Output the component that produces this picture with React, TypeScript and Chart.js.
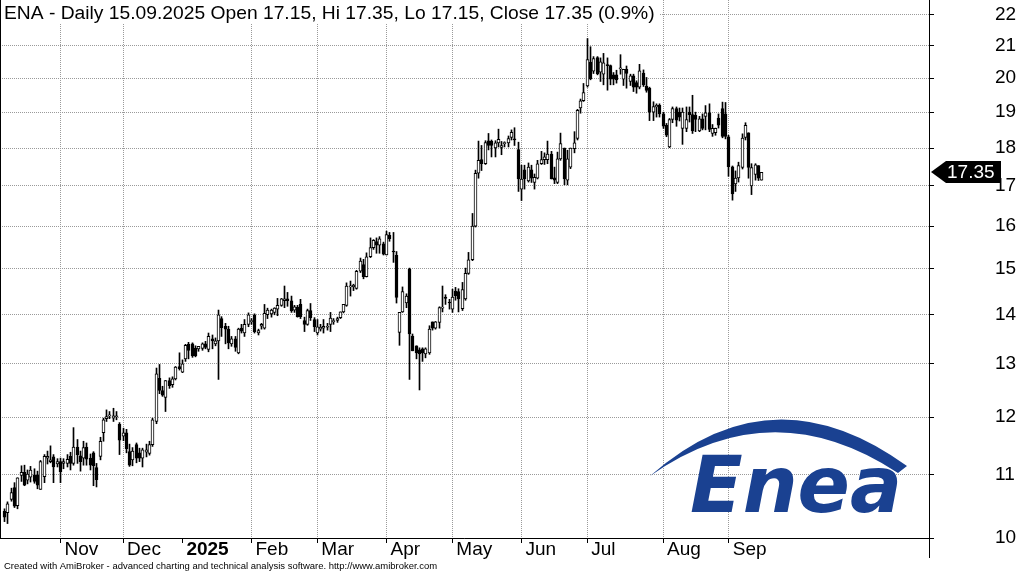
import React, { useEffect, useRef } from 'react';
import { Chart, registerables } from 'chart.js';

Chart.register(...registerables);

// ---- data (ENA daily, 9 Oct 2024 .. 15 Sep 2025), one value per trading day ----
const OPEN = [
  10.41,10.39,10.60,10.79,10.50,10.99,11.04,10.91,10.96,11.00,10.99,10.76,10.97,11.28,11.22,11.30,11.18,
  11.22,11.19,11.19,11.31,11.19,11.47,11.32,11.28,11.47,11.28,11.37,11.12,11.31,11.72,11.97,12.02,11.98,12.00,11.87,
  11.66,11.72,11.39,11.25,11.51,11.37,11.28,11.38,11.36,11.51,11.92,12.72,12.49,12.36,12.68,12.60,12.71,12.95,
  12.84,13.10,13.39,13.40,13.31,13.30,13.31,13.40,13.29,13.50,13.40,13.46,13.92,13.76,13.70,13.40,13.50,13.22,13.72,13.62,13.80,
  13.85,14.00,13.62,13.76,13.72,14.00,14.02,14.05,14.12,14.20,14.30,14.34,14.30,14.10,14.16,14.22,13.88,13.80,14.09,13.90,
  13.62,13.70,13.72,13.74,13.80,13.85,13.88,13.94,14.06,14.20,14.60,14.60,14.57,14.95,15.10,14.83,15.28,15.49,15.63,15.55,15.58,
  15.32,15.78,15.41,15.31,13.63,14.06,14.25,15.00,13.56,13.36,13.28,13.30,13.20,13.22,13.85,13.72,13.84,14.14,14.38,14.27,
  14.12,14.51,14.50,14.13,14.34,14.90,15.21,16.00,17.33,17.69,17.58,18.20,18.19,18.00,18.14,18.02,18.12,18.14,18.29,18.25,17.96,
  16.92,17.42,17.13,17.42,17.09,17.20,17.58,17.69,17.69,17.84,17.21,17.09,17.71,18.00,17.15,17.49,17.98,18.26,19.12,19.33,
  19.77,20.49,20.21,20.63,20.18,20.12,20.40,20.38,20.10,20.10,20.28,19.97,20.27,19.90,20.07,19.87,19.73,20.15,19.76,19.70,19.00,19.15,19.20,
  18.95,18.63,18.03,18.79,19.10,19.00,18.54,18.54,19.00,18.93,18.91,18.47,18.81,18.88,18.98,18.40,18.42,18.83,19.10,18.95,
  18.31,17.50,17.05,17.21,17.48,18.29,18.42,17.00,17.30,17.53,17.15,
];
const HIGH = [
  10.45,10.56,10.78,10.87,10.95,11.15,11.16,11.08,11.14,11.10,11.06,11.24,11.34,11.40,11.49,11.34,11.27,
  11.28,11.27,11.34,11.38,11.81,11.60,11.40,11.57,11.54,11.35,11.39,11.19,11.64,11.98,12.13,12.10,12.16,12.10,11.90,
  11.80,11.78,11.52,11.46,11.54,11.45,11.45,11.52,11.57,11.98,12.92,12.99,12.57,12.68,12.73,12.75,12.95,13.22,
  13.08,13.39,13.43,13.42,13.36,13.35,13.42,13.45,13.62,13.58,13.52,14.10,13.96,13.82,13.76,13.55,13.55,13.72,13.80,13.90,14.04,
  13.92,14.02,13.70,13.82,14.22,14.14,14.12,14.15,14.35,14.35,14.62,14.48,14.40,14.20,14.20,14.33,13.95,14.12,14.24,13.94,
  13.90,13.80,13.90,13.82,14.05,13.92,13.95,14.06,14.22,14.69,14.73,14.66,14.97,15.25,15.22,15.37,15.72,15.68,15.72,15.75,15.62,
  15.88,15.85,15.85,15.40,14.05,14.60,14.45,15.02,13.60,13.36,13.32,13.32,13.32,13.77,13.85,13.86,14.17,14.62,14.43,14.33,
  14.55,14.59,14.56,14.70,15.02,15.38,16.31,17.41,18.19,18.07,18.20,18.40,18.22,18.20,18.52,18.18,18.17,18.33,18.50,18.56,18.16,
  17.54,17.54,17.60,17.54,17.31,17.67,17.91,17.87,18.19,17.91,17.49,17.89,18.41,18.00,17.94,18.00,18.45,19.08,19.38,19.84,
  21.23,20.97,20.66,20.66,20.62,20.76,20.62,20.40,20.17,20.24,20.72,20.27,20.37,20.12,20.12,19.92,20.42,20.25,20.02,19.73,19.30,19.24,19.24,
  19.00,18.68,18.82,19.15,19.15,19.12,19.12,19.15,19.15,19.49,19.00,18.88,18.95,19.19,19.24,18.65,18.55,18.95,19.29,19.28,
  18.35,17.52,17.39,17.62,18.39,18.70,18.42,17.58,17.58,17.53,17.35,
];
const LOW = [
  10.25,10.22,10.57,10.47,10.45,10.89,10.82,10.85,10.88,10.86,10.77,10.76,10.87,11.18,11.20,10.87,11.13,
  10.87,11.10,11.13,11.08,11.16,11.19,11.06,11.16,11.16,11.08,10.82,10.80,11.25,11.57,11.92,11.97,11.92,11.95,11.34,
  11.58,11.37,11.14,11.15,11.20,11.22,11.13,11.30,11.33,11.48,11.88,12.43,12.38,12.10,12.53,12.55,12.69,12.88,
  12.83,13.05,13.10,13.13,13.14,13.25,13.27,13.30,13.24,13.30,13.36,12.70,13.55,13.40,13.30,13.35,13.25,13.20,13.62,13.55,13.75,
  13.80,13.62,13.58,13.70,13.70,13.92,13.95,14.00,13.98,14.18,14.15,14.18,14.05,14.05,13.95,13.92,13.65,13.78,13.88,13.65,
  13.58,13.66,13.62,13.68,13.65,13.80,13.84,13.92,14.04,14.18,14.40,14.52,14.55,14.92,14.78,14.82,15.26,15.45,15.36,15.36,15.32,
  15.32,15.64,15.15,14.25,13.37,14.05,14.15,12.70,13.26,13.10,12.50,13.05,13.12,13.19,13.68,13.70,13.72,14.06,14.22,14.12,
  14.05,14.31,14.06,14.09,14.31,14.88,15.19,15.98,17.20,17.40,17.56,17.95,17.76,17.76,18.03,17.82,18.03,18.03,18.22,18.07,16.86,
  16.63,16.92,17.10,17.09,16.92,17.18,17.56,17.56,17.58,17.18,17.06,17.06,17.67,17.03,17.03,17.45,17.87,18.22,18.97,19.31,
  19.73,19.95,20.14,20.10,19.90,19.80,19.64,19.80,19.80,19.85,20.12,19.78,19.70,19.78,19.60,19.55,19.68,19.75,19.58,18.76,18.76,18.86,18.86,
  18.54,18.31,18.01,18.70,18.60,18.75,18.10,18.45,18.72,18.40,18.45,18.45,18.50,18.50,18.45,18.32,18.35,18.55,18.28,18.25,
  17.25,16.64,16.86,17.10,17.44,18.22,17.20,16.78,17.15,17.14,17.15,
];
const CLOSE = [
  10.32,10.53,10.71,10.49,10.95,11.04,10.83,11.01,11.08,10.89,10.83,11.22,11.31,11.31,11.25,11.13,11.22,
  11.05,11.22,11.26,11.19,11.47,11.34,11.22,11.46,11.26,11.16,11.15,10.92,11.57,11.95,12.01,12.04,12.02,12.02,11.59,
  11.72,11.44,11.16,11.40,11.28,11.28,11.42,11.42,11.51,11.95,12.81,12.49,12.40,12.68,12.58,12.71,12.94,12.91,
  13.00,13.37,13.27,13.16,13.16,13.35,13.40,13.33,13.55,13.46,13.46,14.00,13.73,13.70,13.42,13.50,13.33,13.70,13.66,13.80,14.00,
  13.88,13.65,13.67,13.80,14.03,14.10,14.10,14.14,14.20,14.34,14.34,14.30,14.08,14.17,13.96,13.96,13.80,14.09,13.94,13.75,
  13.75,13.74,13.76,13.76,13.93,13.88,13.92,14.06,14.22,14.62,14.62,14.64,14.95,15.18,14.83,15.28,15.49,15.66,15.55,15.70,15.34,
  15.80,15.70,15.39,14.37,14.05,14.50,14.40,13.60,13.26,13.22,13.20,13.22,13.30,13.70,13.72,13.85,14.15,14.15,14.35,14.25,
  14.38,14.41,14.34,14.54,14.90,15.21,16.00,17.33,17.67,17.58,18.15,18.07,18.07,18.14,18.24,18.07,18.14,18.26,18.43,18.22,17.18,
  17.18,17.18,17.49,17.20,17.22,17.58,17.69,17.76,17.84,17.18,17.15,17.71,18.12,17.18,17.71,18.00,18.14,19.05,19.33,19.57,
  20.57,19.98,20.60,20.13,20.50,20.47,20.38,19.97,19.97,19.95,20.30,20.27,20.14,20.07,19.73,19.73,20.22,19.80,19.63,19.00,19.16,19.20,18.95,
  18.60,18.35,18.79,19.10,18.77,18.86,19.00,18.79,18.93,18.47,18.79,18.81,18.54,18.98,18.51,18.54,18.54,18.63,18.32,18.32,
  17.50,16.80,17.20,17.53,18.27,18.63,17.48,17.48,17.55,17.20,17.35,
];

// trading days per month (Oct 2024 .. Sep 2025) and the month labels
const MONTH_BARS = [17, 19, 18, 21, 20, 21, 20, 21, 20, 23, 20, 11];
const MONTH_LABELS = ['Oct', 'Nov', 'Dec', '2025', 'Feb', 'Mar', 'Apr', 'May', 'Jun', 'Jul', 'Aug', 'Sep'];
const Y_TICKS = [10, 11, 12, 13, 14, 15, 16, 17, 18, 19, 20, 21, 22];

const TICKER = 'ENA';
const LAST_DATE = '15.09.2025';
const FOOTER = 'Created with AmiBroker - advanced charting and technical analysis software. http://www.amibroker.com';
const LOGO_TEXT = 'Enea';

const FONT = '"Liberation Sans", Arial, sans-serif';
const N = CLOSE.length;
const LAST = N - 1;
const MONTH_START: number[] = MONTH_BARS.reduce((acc: number[], n, i) => {
  acc.push(i === 0 ? 0 : acc[i - 1] + MONTH_BARS[i - 1]);
  return acc;
}, []);

function labelFor(v: number): string {
  const k = MONTH_START.indexOf(v);
  return k >= 0 ? MONTH_LABELS[k] : '';
}

function fitSize(ctx: CanvasRenderingContext2D, text: string, font: string, target: number) {
  ctx.font = `100px ${font}`;
  const w = ctx.measureText(text).width;
  return (100 * target) / w;
}

// snap candle centres (computed by the x scale) to the pixel grid for crisp 1px wicks
const snap = {
  id: 'snap',
  afterDatasetsUpdate(chart: any) {
    chart.data.datasets.forEach((_: any, di: number) => {
      const meta = chart.getDatasetMeta(di);
      meta.data.forEach((el: any) => {
        el.x = Math.floor(el.x) + 0.5;
      });
    });
  },
};

const decor = {
  id: 'decor',
  beforeDatasetsDraw(chart: any) {
    const ctx: CanvasRenderingContext2D = chart.ctx;
    ctx.save();
    const blue = '#1a4191';
    // swoosh
    ctx.fillStyle = blue;
    ctx.beginPath();
    ctx.moveTo(650, 476);
    ctx.quadraticCurveTo(772, 368, 907, 466);
    ctx.lineTo(898, 473);
    ctx.quadraticCurveTo(772, 390, 650, 476);
    ctx.closePath();
    ctx.fill();
    // word mark
    const fam = '"DejaVu Sans", "Liberation Sans", sans-serif';
    ctx.font = `italic bold 78px ${fam}`;
    const w = ctx.measureText(LOGO_TEXT).width;
    ctx.translate(690, 512);
    ctx.scale(212 / w, 1);
    ctx.textBaseline = 'alphabetic';
    ctx.textAlign = 'left';
    ctx.fillText(LOGO_TEXT, 0, 0);
    ctx.restore();
  },
  afterDraw(chart: any) {
    const ctx: CanvasRenderingContext2D = chart.ctx;
    const area = chart.chartArea;
    const ys = chart.scales.y;
    ctx.save();
    // title
    const prev = CLOSE[LAST - 1];
    const pct = ((CLOSE[LAST] / prev - 1) * 100).toFixed(1);
    const title = `${TICKER} - Daily ${LAST_DATE} Open ${OPEN[LAST].toFixed(2)}, Hi ${HIGH[LAST].toFixed(2)}, Lo ${LOW[LAST].toFixed(2)}, Close ${CLOSE[LAST].toFixed(2)} (${pct}%)`;
    const ts = fitSize(ctx, title, FONT, 651);
    ctx.fillStyle = '#ffffff';
    ctx.fillRect(area.left, 0, 659, 23);
    ctx.fillStyle = '#000000';
    ctx.font = `${ts}px ${FONT}`;
    ctx.textBaseline = 'alphabetic';
    ctx.textAlign = 'left';
    ctx.fillText(title, 4, 19);
    // axis lines
    ctx.strokeStyle = '#000000';
    ctx.lineWidth = 1;
    ctx.setLineDash([]);
    ctx.beginPath();
    ctx.moveTo(area.left + 0.5, 0);
    ctx.lineTo(area.left + 0.5, area.bottom);
    ctx.moveTo(area.left, area.bottom + 0.5);
    ctx.lineTo(area.right, area.bottom + 0.5);
    ctx.moveTo(area.right + 0.5, 0);
    ctx.lineTo(area.right + 0.5, 558);
    ctx.stroke();
    // footer
    const fs = fitSize(ctx, FOOTER, FONT, 434);
    ctx.font = `${fs}px ${FONT}`;
    ctx.fillText(FOOTER, 4, 569);
    // last price marker
    const yc = Math.round(ys.getPixelForValue(CLOSE[LAST]));
    const x0 = area.right + 2;
    ctx.fillStyle = '#000000';
    ctx.beginPath();
    ctx.moveTo(x0, yc);
    ctx.lineTo(x0 + 15, yc - 11);
    ctx.lineTo(1001, yc - 11);
    ctx.lineTo(1001, yc + 11);
    ctx.lineTo(x0 + 15, yc + 11);
    ctx.closePath();
    ctx.fill();
    ctx.fillStyle = '#ffffff';
    ctx.font = `19px ${FONT}`;
    ctx.textBaseline = 'middle';
    ctx.fillText(CLOSE[LAST].toFixed(2), 947, yc + 1);
    ctx.restore();
  },
};

export default function App() {
  const ref = useRef<HTMLCanvasElement>(null);
  useEffect(() => {
    document.body.style.margin = '0';
    const wickData = HIGH.map((h, i) => ({ x: i, y: [LOW[i], h] }));
    const bodyData = OPEN.map((o, i) => ({ x: i, y: [Math.min(o, CLOSE[i]), Math.max(o, CLOSE[i])] }));
    const isUp = (i: number) => CLOSE[i] >= OPEN[i];
    const chart = new Chart(ref.current as HTMLCanvasElement, {
      type: 'bar',
      data: {
        datasets: [
          {
            label: 'body',
            data: bodyData as any,
            order: 1,
            grouped: false,
            barThickness: 3,
            minBarLength: 1,
            borderWidth: 1,
            borderSkipped: false,
            borderColor: '#000000',
            backgroundColor: (c: any) => (isUp(c.dataIndex) ? '#ffffff' : '#000000'),
          } as any,
          {
            label: 'wick',
            data: wickData as any,
            order: 2,
            grouped: false,
            barThickness: 1,
            borderWidth: 0,
            backgroundColor: '#000000',
          } as any,
        ],
      },
      options: {
        animation: false,
        responsive: false,
        maintainAspectRatio: false,
        devicePixelRatio: 1,
        layout: { padding: 0 },
        events: [],
        plugins: { legend: { display: false }, tooltip: { enabled: false }, title: { display: false } },
        scales: {
          x: {
            type: 'linear',
            position: 'bottom',
            min: -1.4,
            max: 280.8,
            bounds: 'data',
            offset: false,
            afterBuildTicks: (s: any) => {
              s.ticks = MONTH_START.slice(1).map((v) => ({ value: v }));
            },
            afterFit: (s: any) => {
              s.height = 34;
              s.paddingLeft = 0;
              s.paddingRight = 0;
            },
            ticks: {
              autoSkip: false,
              maxRotation: 0,
              minRotation: 0,
              align: 'start',
              labelOffset: 4,
              padding: -5,
              color: '#000000',
              font: (c: any) => ({
                family: FONT,
                size: 19,
                weight: c.tick && labelFor(c.tick.value) === '2025' ? 'bold' : 'normal',
              }),
              callback: (v: any) => labelFor(Number(v)),
            },
            grid: {
              offset: false,
              color: (c: any) => (c.tick && labelFor(c.tick.value) === '2025' ? 'rgba(0,0,0,0)' : '#9a9a9a'),
              lineWidth: 1,
              drawTicks: true,
              tickLength: 5,
              tickColor: '#000000',
              tickBorderDash: [],
            },
            border: { display: false, dash: [1, 1] },
          } as any,
          y: {
            type: 'logarithmic',
            position: 'right',
            min: 10,
            max: 22.5,
            bounds: 'data',
            afterBuildTicks: (s: any) => {
              s.ticks = Y_TICKS.map((v) => ({ value: v }));
            },
            afterFit: (s: any) => {
              s.width = 93;
              s.paddingTop = 0;
              s.paddingBottom = 0;
            },
            ticks: {
              autoSkip: false,
              padding: 61,
              color: '#000000',
              font: { family: FONT, size: 19 },
              callback: (v: any) => String(v),
            },
            grid: {
              color: '#9a9a9a',
              lineWidth: 1,
              drawTicks: true,
              tickLength: 5,
              tickColor: '#000000',
              tickBorderDash: [],
            },
            border: { display: false, dash: [1, 1] },
          } as any,
        },
      } as any,
      plugins: [snap, decor],
    });
    return () => chart.destroy();
  }, []);
  return (
    <div style={{ position: 'absolute', left: 0, top: 0, width: 1022, height: 572, background: '#ffffff' }}>
      <canvas ref={ref} width={1022} height={572} style={{ display: 'block', width: 1022, height: 572 }} />
    </div>
  );
}
